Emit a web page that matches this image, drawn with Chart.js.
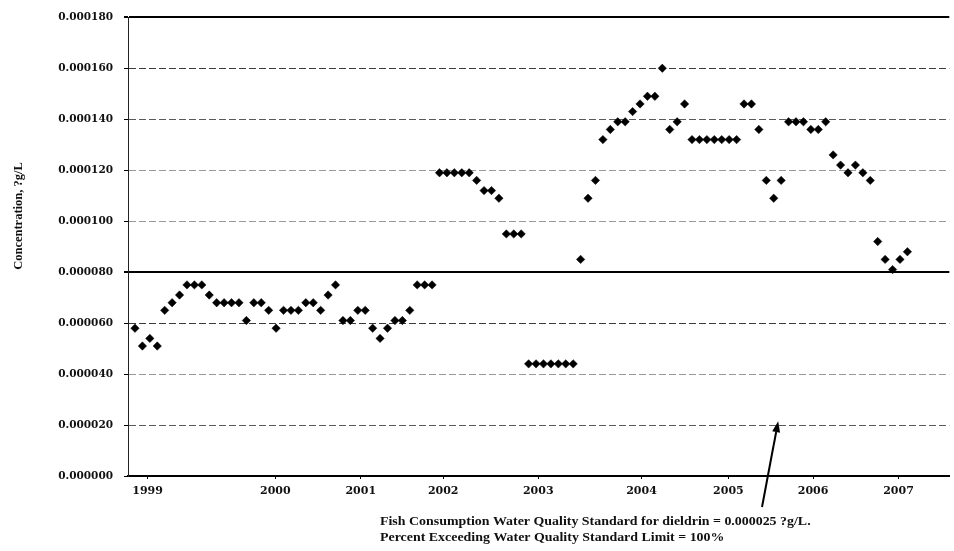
<!DOCTYPE html>
<html><head><meta charset="utf-8">
<script src="https://cdn.jsdelivr.net/npm/chart.js@4.4.1/dist/chart.umd.min.js"></script>
<style>html,body{margin:0;padding:0;background:#fff;} #wrap{width:954px;height:551px;position:relative;}</style>
</head><body><div id="wrap"><canvas id="c" width="954" height="551"></canvas></div>
<script>
// Dieldrin concentration samples (?g/L), in sampling order
const concentration = [
  0.000058, 0.000051, 0.000054, 0.000051, 0.000065, 0.000068, 0.000071, 0.000075, 0.000075, 0.000075,
  0.000071, 0.000068, 0.000068, 0.000068, 0.000068, 0.000061, 0.000068, 0.000068, 0.000065, 0.000058,
  0.000065, 0.000065, 0.000065, 0.000068, 0.000068, 0.000065, 0.000071, 0.000075, 0.000061, 0.000061,
  0.000065, 0.000065, 0.000058, 0.000054, 0.000058, 0.000061, 0.000061, 0.000065, 0.000075, 0.000075,
  0.000075, 0.000119, 0.000119, 0.000119, 0.000119, 0.000119, 0.000116, 0.000112, 0.000112, 0.000109,
  0.000095, 0.000095, 0.000095, 0.000044, 0.000044, 0.000044, 0.000044, 0.000044, 0.000044, 0.000044,
  0.000085, 0.000109, 0.000116, 0.000132, 0.000136, 0.000139, 0.000139, 0.000143, 0.000146, 0.000149,
  0.000149, 0.000160, 0.000136, 0.000139, 0.000146, 0.000132, 0.000132, 0.000132, 0.000132, 0.000132,
  0.000132, 0.000132, 0.000146, 0.000146, 0.000136, 0.000116, 0.000109, 0.000116, 0.000139, 0.000139,
  0.000139, 0.000136, 0.000136, 0.000139, 0.000126, 0.000122, 0.000119, 0.000122, 0.000119, 0.000116,
  0.000092, 0.000085, 0.000081, 0.000085, 0.000088
];
const yearLabels = ['1999', '2000', '2001', '2002', '2003', '2004', '2005', '2006', '2007'];
const yTickValues = [0, 0.00002, 0.00004, 0.00006, 0.00008, 0.0001, 0.00012, 0.00014, 0.00016, 0.00018];
const yAxisTitle = 'Concentration, ?g/L';
const noteLines = [
  'Fish Consumption Water Quality Standard for dieldrin = 0.000025 ?g/L.',
  'Percent Exceeding Water Quality Standard Limit = 100%'
];

// layout (sample-index positions of the year labels along the axis)
const yearTickAt = [1.7, 18.9, 30.4, 41.5, 54.3, 68.2, 79.9, 91.3, 102.8];

const points = concentration.map((v, i) => ({x: i, y: v}));
const near = (a, b) => Math.abs(a - b) < 1e-10;

const gridColor = (v) => {
  if (near(v, 0)) return 'rgba(0,0,0,0)';
  if (near(v, 0.00018) || near(v, 0.00008)) return '#000';
  if (near(v, 0.00016) || near(v, 0.00006)) return '#3a3a3a';
  if (near(v, 0.00014) || near(v, 0.00002)) return '#5a5a5a';
  return '#9a9a9a';
};

const extras = {
  id: 'extras',
  afterDraw(chart) {
    const ctx = chart.ctx;
    const xs = chart.scales.x, ys = chart.scales.y;
    ctx.save();
    // y axis title
    ctx.translate(19, 216);
    ctx.rotate(-Math.PI / 2);
    ctx.font = 'bold 12.5px "Liberation Serif"';
    ctx.fillStyle = '#111';
    ctx.textAlign = 'center';
    ctx.textBaseline = 'middle';
    ctx.fillText(yAxisTitle, 0, 0);
    ctx.restore();

    // arrow
    ctx.save();
    const tipX = xs.getPixelForValue(86.6), tipY = ys.getPixelForValue(0.0000215);
    const baseX = 762, baseY = 507;
    ctx.strokeStyle = '#000';
    ctx.fillStyle = '#000';
    ctx.lineWidth = 2;
    const ang = Math.atan2(tipY - baseY, tipX - baseX);
    const hl = 11, hw = 4;
    const bx = tipX - hl * Math.cos(ang), by = tipY - hl * Math.sin(ang);
    ctx.beginPath(); ctx.moveTo(baseX, baseY); ctx.lineTo(bx, by); ctx.stroke();
    ctx.beginPath();
    ctx.moveTo(tipX, tipY);
    ctx.lineTo(bx + hw * Math.sin(ang), by - hw * Math.cos(ang));
    ctx.lineTo(bx - hw * Math.sin(ang), by + hw * Math.cos(ang));
    ctx.closePath(); ctx.fill();
    ctx.restore();

    // footnote (horizontally stretched like the scanned original)
    ctx.save();
    ctx.translate(380, 0);
    ctx.scale(1.16, 1);
    ctx.font = 'bold 12px "Liberation Serif"';
    ctx.fillStyle = '#111';
    ctx.textAlign = 'left';
    ctx.textBaseline = 'middle';
    ctx.fillText(noteLines[0], 0, 522);
    ctx.fillText(noteLines[1], 0, 538);
    ctx.restore();
  }
};

new Chart(document.getElementById('c'), {
  type: 'scatter',
  data: {
    datasets: [{
      data: points,
      pointStyle: 'rectRot',
      pointRadius: 4.2,
      pointBorderWidth: 0.5,
      backgroundColor: '#000',
      borderColor: '#000',
      showLine: false
    }]
  },
  options: {
    responsive: false,
    animation: false,
    layout: {padding: {top: 17, right: 0, left: 0, bottom: 0}},
    plugins: {legend: {display: false}, tooltip: {enabled: false}},
    scales: {
      x: {
        type: 'linear',
        min: -0.94,
        max: 109.64,
        afterBuildTicks: (s) => { s.ticks = yearTickAt.map(v => ({value: v})); },
        afterFit: (s) => { s.height = 75; },
        ticks: {
          autoSkip: false,
          maxRotation: 0,
          padding: 6,
          color: '#111',
          font: {family: '"DejaVu Serif"', size: 11, weight: 'bold'},
          callback: (v, i) => yearLabels[i]
        },
        grid: {drawOnChartArea: false, drawTicks: true, tickLength: 3, color: '#000'},
        border: {display: true, color: '#000', width: 2}
      },
      y: {
        min: 0,
        max: 0.00018,
        afterBuildTicks: (s) => { s.ticks = yTickValues.map(v => ({value: v})); },
        afterFit: (s) => { s.width = 128; },
        ticks: {
          padding: 11,
          color: '#111',
          font: {family: '"DejaVu Serif"', size: 10.5, weight: 'bold'},
          callback: (v) => Number(v).toFixed(6)
        },
        grid: {
          color: (c) => gridColor(c.tick ? c.tick.value : -1),
          lineWidth: (c) => (c.tick && (near(c.tick.value, 0.00008) || near(c.tick.value, 0.00018))) ? 2 : 1,
          tickColor: '#000',
          tickLength: 4,
          drawTicks: true
        },
        border: {
          display: true, color: '#222', width: 1,
          dash: (c) => (c.tick && (near(c.tick.value, 0.00008) || near(c.tick.value, 0.00018))) ? [] : [7, 3]
        }
      }
    }
  },
  plugins: [extras]
});
</script>
</body></html>
